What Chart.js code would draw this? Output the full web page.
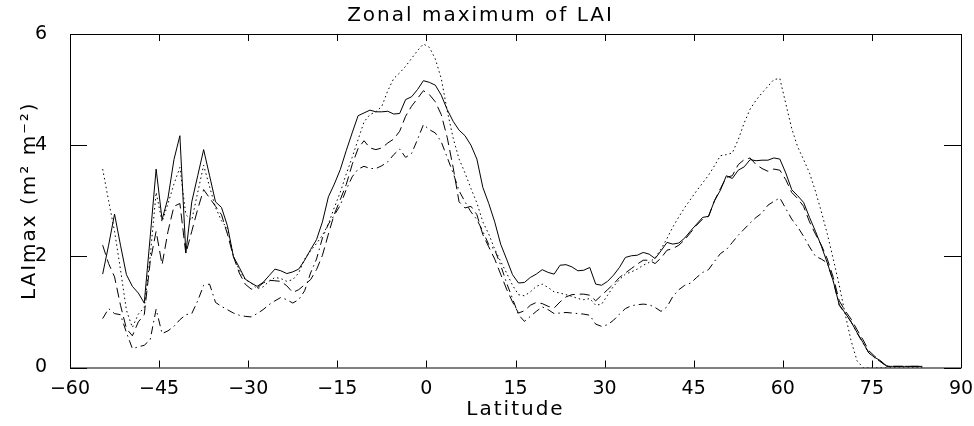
<!DOCTYPE html>
<html>
<head>
<meta charset="utf-8">
<title>Zonal maximum of LAI</title>
<script src="https://cdn.jsdelivr.net/npm/chart.js"></script>
<style>
  html, body { margin: 0; padding: 0; background: #fff; }
  #wrap { width: 974px; height: 426px; }
</style>
</head>
<body>
<div id="wrap"><canvas id="lai" width="974" height="426"></canvas></div>
<script>
// latitude of each zonal band (deg)
const latitudes = [
  -54.5, -53.5, -52.5, -51.5, -50.5, -49.5, -48.5, -47.5, -46.5, -45.5,
  -44.5, -43.5, -42.5, -41.5, -40.5, -39.5, -38.5, -37.5, -36.5, -35.5,
  -34.5, -33.5, -32.5, -31.5, -30.5, -29.5, -28.5, -27.5, -26.5, -25.5,
  -24.5, -23.5, -22.5, -21.5, -20.5, -19.5, -18.5, -17.5, -16.5, -15.5,
  -14.5, -13.5, -12.5, -11.5, -10.5, -9.5, -8.5, -7.5, -6.5, -5.5,
  -4.5, -3.5, -2.5, -1.5, -0.5, 0.5, 1.5, 2.5, 3.5, 4.5,
  5.5, 6.5, 7.5, 8.5, 9.5, 10.5, 11.5, 12.5, 13.5, 14.5,
  15.5, 16.5, 17.5, 18.5, 19.5, 20.5, 21.5, 22.5, 23.5, 24.5,
  25.5, 26.5, 27.5, 28.5, 29.5, 30.5, 31.5, 32.5, 33.5, 34.5,
  35.5, 36.5, 37.5, 38.5, 39.5, 40.5, 41.5, 42.5, 43.5, 44.5,
  45.5, 46.5, 47.5, 48.5, 49.5, 50.5, 51.5, 52.5, 53.5, 54.5,
  55.5, 56.5, 57.5, 58.5, 59.5, 60.5, 61.5, 62.5, 63.5, 64.5,
  65.5, 66.5, 67.5, 68.5, 69.5, 70.5, 71.5, 72.5, 73.5, 74.5,
  75.5, 76.5, 77.5, 78.5, 79.5, 80.5, 81.5, 82.5, 83.5
];

// solid line
const laiSolid = [
  1.68, 2.2, 2.76, 2.2, 1.67, 1.46, 1.34, 1.16, 2.35, 3.57,
  2.66, 3.05, 3.74, 4.17, 2.06, 2.98, 3.45, 3.92, 3.45, 2.98,
  2.88, 2.55, 2.0, 1.8, 1.59, 1.52, 1.46, 1.53, 1.65, 1.77,
  1.74, 1.69, 1.72, 1.77, 1.93, 2.12, 2.3, 2.62, 3.07, 3.3,
  3.56, 3.9, 4.22, 4.53, 4.58, 4.63, 4.6, 4.6, 4.61, 4.56,
  4.57, 4.82, 4.87, 5.0, 5.16, 5.13, 5.08, 4.9, 4.64, 4.43,
  4.27, 4.17, 4.0, 3.75, 3.24, 2.95, 2.62, 2.22, 1.95, 1.67,
  1.52, 1.53, 1.62, 1.68, 1.76, 1.71, 1.68, 1.84, 1.85, 1.81,
  1.74, 1.75, 1.8, 1.5, 1.48, 1.55, 1.66, 1.8, 1.98, 2.01,
  2.02, 2.07, 2.04, 1.96, 2.1, 2.25, 2.22, 2.24, 2.33, 2.46,
  2.58, 2.7, 2.72, 3.0, 3.19, 3.45, 3.4, 3.55, 3.61, 3.74,
  3.72, 3.73, 3.73, 3.77, 3.75, 3.5, 3.2, 3.09, 2.97, 2.7,
  2.45, 2.18, 1.88, 1.55, 1.13, 0.98, 0.82, 0.63, 0.45, 0.26,
  0.18, 0.12, 0.02, 0.02, 0.02, 0.02, 0.02, 0.02, 0.02
];

// dotted line
const laiDotted = [
  3.57, 3.0, 2.45, 1.76, 1.03, 0.72, 0.96, 1.08, 2.0, 3.15,
  2.62, 2.95, 3.3, 3.6, 2.75, 2.65, 3.15, 3.64, 3.25, 2.88,
  2.64, 2.5, 2.0, 1.75, 1.58, 1.52, 1.42, 1.45, 1.55, 1.62,
  1.6, 1.55, 1.58, 1.7, 1.95, 2.1, 2.23, 2.38, 2.58, 2.88,
  3.15, 3.48, 3.78, 4.1, 4.42, 4.55, 4.6, 4.7, 4.98, 5.2,
  5.3, 5.42, 5.56, 5.7, 5.82, 5.76, 5.55, 5.2, 4.62, 4.13,
  3.75, 3.5, 3.22, 2.96, 2.62, 2.4, 2.13, 1.91, 1.7, 1.48,
  1.31, 1.29, 1.36, 1.46, 1.5, 1.44, 1.36, 1.34, 1.31, 1.28,
  1.24, 1.22, 1.24, 1.12, 1.14, 1.3, 1.46, 1.58, 1.68, 1.72,
  1.77, 1.84, 1.89, 1.97, 2.13, 2.32, 2.53, 2.71, 2.88, 3.03,
  3.18, 3.32, 3.46, 3.63, 3.81, 3.83, 3.86, 4.1, 4.4, 4.65,
  4.81, 4.94, 5.06, 5.18, 5.2, 4.75, 4.3, 3.97, 3.74, 3.5,
  3.17, 2.8, 2.4, 1.95, 1.48, 0.96, 0.48, 0.12, 0, 0,
  0, 0, 0, 0, 0, 0, 0, 0, 0
];

// dashed line
const laiDashed = [
  2.2, 1.87, 1.63, 1.12, 0.7, 0.57, 0.82, 0.95, 1.9, 2.45,
  1.85, 2.45, 2.9, 2.95, 2.05, 2.45, 2.85, 3.2, 3.05, 2.9,
  2.75, 2.4, 2.0, 1.7, 1.5, 1.41, 1.43, 1.52, 1.57, 1.56,
  1.55, 1.47, 1.35, 1.4, 1.49, 1.58, 1.76, 2.02, 2.4, 2.76,
  3.02, 3.29, 3.65, 3.94, 4.08, 3.95, 3.92, 3.95, 4.04, 4.11,
  4.25, 4.52, 4.7, 4.84, 4.98, 4.91, 4.78, 4.55, 4.14, 3.6,
  2.98, 2.87, 2.9, 2.75, 2.39, 2.17, 1.95, 1.68, 1.41, 1.18,
  0.98, 1.02, 1.12, 1.17, 1.15, 1.1, 1.07, 1.18, 1.27, 1.31,
  1.32, 1.32, 1.3, 1.2, 1.3, 1.4, 1.5, 1.62, 1.7, 1.78,
  1.86, 1.93, 1.93, 1.87, 1.97, 2.11, 2.14, 2.2, 2.3, 2.43,
  2.56, 2.67, 2.72, 3.0, 3.22, 3.42, 3.45, 3.65, 3.74, 3.77,
  3.65, 3.58, 3.53, 3.57, 3.55, 3.38, 3.15, 3.04, 2.9, 2.62,
  2.4, 2.2, 1.95, 1.62, 1.2, 1.02, 0.87, 0.68, 0.5, 0.3,
  0.2, 0.1, 0.03, 0.02, 0.02, 0.02, 0.02, 0.02, 0.02
];

// dash-dot line
const laiDashDot = [
  0.88, 1.06, 0.97, 0.95, 0.63, 0.34, 0.37, 0.4, 0.5, 1.05,
  0.61, 0.66, 0.74, 0.86, 0.95, 0.97, 1.2, 1.48, 1.5, 1.17,
  1.1, 1.04, 0.98, 0.94, 0.92, 0.91, 0.97, 1.04, 1.13, 1.2,
  1.26, 1.22, 1.16, 1.22, 1.38, 1.7, 1.95, 2.33, 2.58, 2.74,
  2.92, 3.2, 3.43, 3.57, 3.62, 3.58, 3.58, 3.63, 3.7, 3.83,
  3.93, 3.78, 3.85, 4.1, 4.37, 4.28, 4.22, 4.06, 3.78, 3.5,
  3.18, 2.98, 2.8, 2.66, 2.45, 2.21, 2.12, 1.84, 1.52, 1.24,
  0.95, 0.83, 0.92, 1.01, 1.09, 1.04, 0.97, 0.98, 0.99, 0.98,
  0.97, 0.96, 0.94, 0.78, 0.74, 0.77, 0.85, 0.96, 1.06, 1.11,
  1.13, 1.14, 1.13, 1.08, 1.01, 1.09, 1.28, 1.4, 1.48, 1.52,
  1.62, 1.71, 1.76, 1.91, 2.05, 2.12, 2.25, 2.38, 2.49, 2.6,
  2.7, 2.78, 2.92, 2.99, 3.05, 2.86, 2.67, 2.53, 2.36, 2.17,
  2.0, 1.95, 1.88, 1.55, 1.12, 0.97, 0.82, 0.62, 0.44, 0.26,
  0.17, 0.1, 0.02, 0.02, 0.02, 0.02, 0.02, 0.02, 0.02
];

const xTicks = [-60, -45, -30, -15, 0, 15, 30, 45, 60, 75, 90];
const yTicks = [0, 2, 4, 6];

const FONT = 'DejaVu Sans';

function points(values) {
  return latitudes.map((lat, i) => ({ x: lat, y: values[i] }));
}

function line(values, dash) {
  return {
    data: points(values),
    borderColor: '#000',
    borderWidth: 1,
    borderDash: dash,
    pointRadius: 0,
    tension: 0,
    fill: false
  };
}

// titles are drawn before the datasets; give them the wide spacing of the old plot font
const spacingPlugin = {
  id: 'spacing',
  beforeDraw(chart) { chart.ctx.letterSpacing = '2px'; },
  beforeDatasetsDraw(chart) { chart.ctx.letterSpacing = '0px'; }
};

// box round the plot with inward ticks on all four sides
const framePlugin = {
  id: 'frame',
  afterDatasetsDraw(chart) {
    const { ctx, chartArea: a, scales: { x, y } } = chart;
    ctx.save();
    ctx.strokeStyle = '#000';
    ctx.lineWidth = 1;
    ctx.beginPath();
    ctx.rect(a.left + 0.5, a.top + 0.5, a.right - a.left, a.bottom - a.top);
    xTicks.forEach(v => {
      const px = Math.round(x.getPixelForValue(v)) + 0.5;
      ctx.moveTo(px, a.bottom);
      ctx.lineTo(px, a.bottom - 7);
      ctx.moveTo(px, a.top);
      ctx.lineTo(px, a.top + 7);
    });
    yTicks.forEach(v => {
      const py = Math.round(y.getPixelForValue(v)) + 0.5;
      ctx.moveTo(a.left, py);
      ctx.lineTo(a.left + 17, py);
      ctx.moveTo(a.right, py);
      ctx.lineTo(a.right - 17, py);
    });
    ctx.stroke();
    ctx.restore();
  }
};

new Chart(document.getElementById('lai'), {
  type: 'line',
  data: {
    datasets: [
      line(laiSolid, []),
      line(laiDotted, [1.5, 3]),
      line(laiDashed, [10, 5]),
      line(laiDashDot, [8, 4, 1.5, 4])
    ]
  },
  options: {
    responsive: false,
    animation: false,
    layout: { padding: { left: 0, right: 13, top: 0, bottom: 0 } },
    plugins: {
      legend: { display: false },
      tooltip: { enabled: false },
      title: {
        display: true,
        text: 'Zonal maximum of LAI',
        color: '#000',
        font: { family: FONT, size: 20, weight: 'normal' },
        padding: { top: 4, bottom: 6 }
      }
    },
    scales: {
      x: {
        type: 'linear',
        min: -60,
        max: 90,
        afterBuildTicks: s => { s.ticks = xTicks.map(v => ({ value: v })); },
        afterFit: s => { s.height = 58.5; s.paddingRight = 0; },
        grid: { display: false },
        border: { display: false },
        ticks: {
          z: 1,
          color: '#000',
          font: { family: FONT, size: 19 },
          padding: 2,
          maxRotation: 0,
          autoSkip: false,
          callback: v => String(v).replace('-', '\u2212')
        },
        title: {
          display: true,
          text: 'Latitude',
          color: '#000',
          font: { family: FONT, size: 20 },
          padding: { top: 0, bottom: 4 }
        }
      },
      y: {
        min: 0,
        max: 6,
        afterBuildTicks: s => { s.ticks = yTicks.map(v => ({ value: v })); },
        afterFit: s => { s.width = 70; },
        grid: { display: false },
        border: { display: false },
        ticks: {
          z: 1,
          color: '#000',
          font: { family: FONT, size: 19 },
          padding: 15
        },
        title: {
          display: true,
          text: 'LAImax (m\u00b2 m\u207b\u00b2)',
          color: '#000',
          font: { family: FONT, size: 20 },
          padding: { top: 18, bottom: 0 }
        }
      }
    }
  },
  plugins: [spacingPlugin, framePlugin]
});
</script>
</body>
</html>
